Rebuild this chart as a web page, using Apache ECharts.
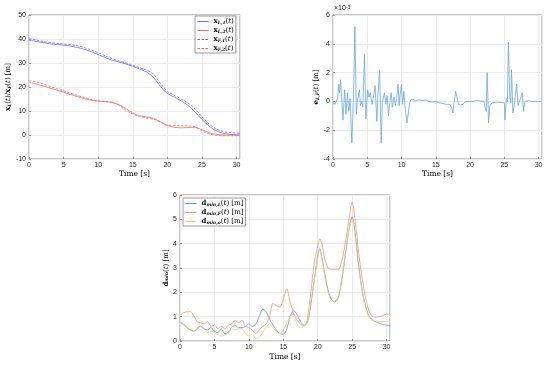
<!DOCTYPE html>
<html>
<head>
<meta charset="utf-8">
<script src="https://cdn.jsdelivr.net/npm/echarts@6/dist/echarts.min.js"></script>
<style>html,body{margin:0;padding:0;background:#fff}#c{width:550px;height:365px}</style>
</head>
<body>
<div id="c"></div>
<script>
// ---- top-left: positions ----
var tA = [0,1,2,3,4,5,6,7,8,9,10,11,12,13,14,15,16,17,18,19,20,21,22,23,24,25,26,27,28,29,30,30.5];
var xL1 = [39.5,39,38.5,38,37.7,37.4,37,36.5,35.7,34.7,33.5,32.3,31.2,30.4,29.6,28.6,27.5,26.2,24,20.3,17.3,15.8,14.2,12.3,9.5,6.5,3.8,1.8,0.8,0.3,0.05,0];
var xF1 = [40.5,39.6,39,38.5,38.2,37.9,37.6,37.2,36.4,35.4,34.3,33,31.8,30.9,30,29,28,27,25.3,21.5,18.2,16.5,15,13.3,10.8,7.6,4.6,2.6,1.5,1.0,0.8,0.8];
var xL2 = [22,21.3,20.5,19.6,18.7,17.8,16.9,16,15.2,14.5,14.1,13.9,13.5,12.7,11,9.2,8,7.5,7,5.4,3.9,3.2,3.0,3.1,3.2,2.2,1.0,0.3,0.05,0,0,0];
var xF2 = [22.6,22.2,21.3,20.3,19.3,18.4,17.4,16.5,15.6,14.8,14.2,14.0,13.6,12.4,10.4,8.7,7.7,7.1,6.6,5.3,4.2,4.0,3.9,3.8,3.4,1.7,0.5,-0.1,-0.3,-0.3,-0.3,-0.3];

// ---- top-right: error (x1e-3) ----
var tE = [0,0.3,0.5,0.7,0.85,0.95,1.1,1.2,1.45,1.7,1.9,2.1,2.3,2.5,2.75,3.0,3.2,3.4,3.6,3.85,4.0,4.2,4.35,4.6,4.8,5.05,5.25,5.45,5.7,5.9,6.15,6.4,6.55,6.8,7.03,7.2,7.5,7.7,7.9,8.1,8.3,8.5,8.65,8.9,9.1,9.3,9.5,9.65,9.8,10.0,10.15,10.35,10.5,10.8,11.1,11.3,11.6,12,12.5,13,13.5,14,14.5,15,15.5,16,16.5,17,17.3,17.5,17.7,17.9,18.1,18.3,18.6,19,19.3,20,21,22,22.35,22.5,22.7,22.9,23.2,24,25,25.1,25.3,25.45,25.6,25.8,25.95,26.05,26.25,26.45,26.8,27.0,27.3,27.6,27.8,28.0,28.5,29,30,30.5];
var eLF = [-0.1,-0.2,-0.15,0.3,1.2,0.6,1.5,0.8,-1.3,0.8,-0.9,0.6,-0.7,0.2,-2.9,0.5,5.2,-0.9,0.2,0.8,-0.3,0.0,-0.4,3.3,-1.2,0.8,0.3,0.6,-0.2,0.3,1.1,-1.4,0.4,2.2,-2.9,-0.1,0.6,-0.2,0.4,-1.0,0.0,0.6,-0.4,0.3,-0.3,0.2,1.2,-0.3,0.5,1.2,-0.2,0.7,-0.3,-1.5,-0.4,0.1,0.15,0.05,0.1,0.05,0.1,0.0,-0.05,0.0,-0.1,-0.15,-0.2,-0.2,-0.4,-0.8,0.0,0.7,0.3,-0.2,-0.25,-0.2,0.0,0.0,0.05,0.0,-0.7,2.0,-1.5,-0.3,-0.1,-0.05,-0.1,-1.3,0.2,0.0,4.1,0.3,-0.1,2.2,-0.8,-0.3,1.2,-0.3,0.1,0.6,-0.7,0.0,0.05,0.0,0.0,0.0];

// ---- bottom: minimum distances ----
var tB = [0,0.5,1,1.5,2,2.5,3,3.5,4,4.5,5,5.5,6,6.5,7,7.5,8,8.5,9,9.5,10,10.5,11,11.5,12,12.5,13,13.5,14,14.5,15,15.5,16,16.5,17,17.5,18,18.5,19,19.5,20,20.3,20.7,21,21.5,22,22.5,23,23.5,24,24.5,25,25.5,26,26.5,27,27.5,28,28.5,29,29.5,30,30.5];
var dL = [0.75,0.7,0.55,0.45,0.4,0.5,0.6,0.5,0.45,0.55,0.4,0.35,0.5,0.3,0.35,0.55,0.65,0.55,0.55,0.6,0.7,0.6,0.7,1.0,1.3,1.2,0.9,0.65,0.45,0.3,0.28,0.5,1.0,1.25,1.1,0.8,0.65,0.75,1.5,2.5,3.5,3.8,3.3,2.8,2.1,1.7,1.6,1.8,2.5,3.5,4.5,5.1,4.3,3.0,2.0,1.4,1.0,0.85,0.78,0.72,0.68,0.65,0.65];
var dF = [1.05,1.15,1.2,1.2,1.05,0.8,0.75,0.7,0.8,0.6,0.65,0.5,0.6,0.5,0.65,0.7,0.85,0.75,0.85,0.6,0.55,0.45,0.3,0.45,0.6,0.7,1.0,1.55,1.45,1.4,1.7,2.15,1.6,1.15,0.85,0.7,0.6,0.9,2.0,3.2,3.9,4.2,3.9,3.4,3.0,2.95,2.95,2.95,3.3,4.0,4.9,5.7,4.8,3.5,2.5,1.7,1.2,1.0,0.98,1.0,1.05,1.1,1.1];
var dO = [0.75,0.65,0.55,0.45,0.4,0.55,0.6,0.5,0.35,0.4,0.35,0.25,0.2,0.25,0.3,0.5,0.45,0.5,0.5,0.3,0.2,0.3,0.1,0.15,0.35,0.55,0.7,0.55,0.4,0.3,0.45,0.75,1.0,1.1,0.7,0.55,0.6,0.8,1.6,2.5,3.4,3.7,3.2,2.7,2.0,1.65,1.65,1.85,2.6,3.6,4.5,5.0,4.1,2.9,2.0,1.3,0.95,0.85,0.82,0.8,0.8,0.8,0.8];

var xTicks = [0,5,10,15,20,25,30];

function zip(t, v){ return t.map(function(x,i){ return [x, v[i]]; }); }

var SERIF = 'DejaVu Serif';
var SANS = 'Liberation Sans';
var rich = {
  b: {fontFamily: SERIF, fontWeight: 'bold', fontSize: 7, color: '#000'},
  s: {fontFamily: SERIF, fontSize: 4.5, fontStyle: 'italic', fontWeight: 'bold', color: '#000', verticalAlign: 'bottom', lineHeight: 6},
  n: {fontFamily: SERIF, fontSize: 7, color: '#000'},
  i: {fontFamily: SERIF, fontSize: 7, fontStyle: 'italic', color: '#000'}
};
var names = {
  xL1: '{b|x}{s|L,1}{n|(}{i|t}{n|)}',
  xL2: '{b|x}{s|L,2}{n|(}{i|t}{n|)}',
  xF1: '{b|x}{s|F,1}{n|(}{i|t}{n|)}',
  xF2: '{b|x}{s|F,2}{n|(}{i|t}{n|)}',
  dL: '{b|d}{s|min,L}{n|(}{i|t}{n|) [m]}',
  dF: '{b|d}{s|min,F}{n|(}{i|t}{n|) [m]}',
  dO: '{b|d}{s|min,o}{n|(}{i|t}{n|) [m]}'
};

var grids = [
  {left: 29, top: 15, width: 211, height: 144},
  {left: 333, top: 15, width: 209, height: 144},
  {left: 180, top: 195, width: 210, height: 146}
];
grids.forEach(function(g){ g.show = true; g.borderColor = '#8f8f8f'; g.borderWidth = 1; g.backgroundColor = '#fff'; });

function xAx(idx, gap){
  return {
    gridIndex: idx, type: 'value', min: 0, max: 30.5, interval: 5,
    name: 'Time [s]', nameLocation: 'middle', nameGap: gap,
    nameTextStyle: {fontFamily: SERIF, fontSize: 7.5, color: '#000'},
    axisLine: {show: false, onZero: false},
    axisTick: {show: true, inside: true, length: 2, lineStyle: {color: '#8f8f8f'}},
    axisLabel: {fontFamily: SANS, fontSize: 7, color: '#262626', margin: 3, showMaxLabel: false,
      formatter: function(v){ return xTicks.indexOf(v) >= 0 ? String(v) : ''; }},
    splitLine: {show: true, lineStyle: {color: '#ebebeb', width: 1}}
  };
}
function yAx(idx, min, max, step, nameRich, gap){
  return {
    gridIndex: idx, type: 'value', min: min, max: max, interval: step,
    name: nameRich, nameLocation: 'middle', nameGap: gap,
    nameTextStyle: {rich: rich},
    axisLine: {show: false, onZero: false},
    axisTick: {show: true, inside: true, length: 2, lineStyle: {color: '#8f8f8f'}},
    axisLabel: {fontFamily: SANS, fontSize: 7, color: '#262626', margin: 3},
    splitLine: {show: true, lineStyle: {color: '#ebebeb', width: 1}}
  };
}

function line(name, xi, t, v, color, dashed){
  return {
    name: name, type: 'line', xAxisIndex: xi, yAxisIndex: xi,
    data: zip(t, v), showSymbol: false, symbol: 'none', smooth: 0.3,
    lineStyle: {color: color, width: 0.8, type: dashed ? [2.5, 1.5] : 'solid'},
    itemStyle: {color: color},
    animation: false
  };
}
function legend(data, left, top){
  return {
    data: data, left: left, top: top, orient: 'vertical',
    itemWidth: 11, itemHeight: 8, itemGap: 2,
    padding: [2, 2, 1, 2], borderColor: '#5a5a5a', borderWidth: 0.6, backgroundColor: '#fff',
    textStyle: {rich: rich},
    itemStyle: {opacity: 0},
    lineStyle: {width: 1},
    formatter: function(n){ return names[n]; },
    selectedMode: false
  };
}

var chart = echarts.init(document.getElementById('c'), null, {renderer: 'canvas'});
chart.setOption({
  animation: false,
  backgroundColor: '#fff',
  grid: grids,
  xAxis: [xAx(0, 11), xAx(1, 11), xAx(2, 12)],
  yAxis: [
    yAx(0, -10, 50, 10, '{b|x}{s|L}{n|(}{i|t}{n|)/}{b|x}{s|F}{n|(}{i|t}{n|) [m]}', 15),
    yAx(1, -4, 6, 2, '{b|e}{s|L,F}{n|(}{i|t}{n|) [m]}', 11),
    yAx(2, 0, 6, 1, '{b|d}{s|min}{n|(}{i|t}{n|) [m]}', 6)
  ],
  legend: [
    legend(['xL1','xL2','xF1','xF2'], 195, 16),
    legend(['dL','dF','dO'], 183, 198)
  ],
  graphic: [{
    type: 'text', left: 334, top: 5,
    style: {
      text: '{n|×10}{p|-3}',
      rich: {
        n: {fontFamily: SANS, fontSize: 7, fill: '#262626'},
        p: {fontFamily: SANS, fontSize: 5, fill: '#262626', verticalAlign: 'top', lineHeight: 6}
      }
    }
  }],
  series: [
    line('xL1', 0, tA, xL1, '#6b6bef', false),
    line('xL2', 0, tA, xL2, '#ef6b6b', false),
    line('xF1', 0, tA, xF1, '#6b6bef', true),
    line('xF2', 0, tA, xF2, '#ef6b6b', true),
    (function(){ var s = line('eLF', 1, tE, eLF, '#6aa8dc', false); s.smooth = false; return s; })(),
    line('dL', 2, tB, dL, '#5d9ec6', false),
    line('dF', 2, tB, dF, '#e9977a', false),
    line('dO', 2, tB, dO, '#f2c97c', false)
  ]
});
</script>
</body>
</html>
